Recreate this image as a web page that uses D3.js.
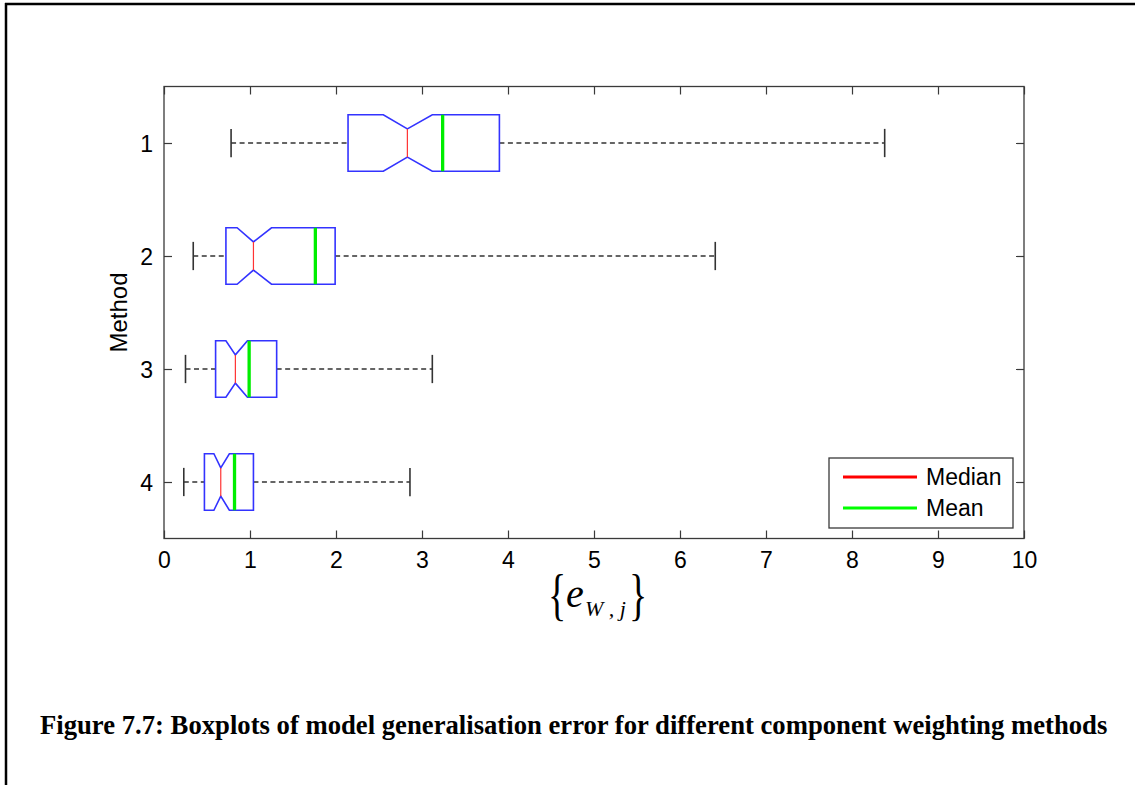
<!DOCTYPE html>
<html>
<head>
<meta charset="utf-8">
<script src="https://cdn.jsdelivr.net/npm/d3@7"></script>
<style>
  html, body { margin: 0; padding: 0; background: #fff; }
  svg { display: block; }
</style>
</head>
<body>
<svg id="chart" width="1135" height="785"></svg>
<script>
// ---- data ----
const methods      = ["1", "2", "3", "4"];
const lowerWhisker = [0.78, 0.34, 0.25, 0.23];
const q1           = [2.14, 0.72, 0.60, 0.47];
const median       = [2.83, 1.04, 0.83, 0.66];
const q3           = [3.90, 1.99, 1.31, 1.04];
const upperWhisker = [8.38, 6.41, 3.12, 2.86];
const meanVals     = [3.24, 1.76, 0.99, 0.82];
const notchLow     = [2.55, 0.85, 0.72, 0.58];
const notchHigh    = [3.12, 1.25, 0.97, 0.76];
const xTicks       = [0, 1, 2, 3, 4, 5, 6, 7, 8, 9, 10];
const legendLabels = ["Median", "Mean"];
const legendColors = ["#ff0000", "#00ff00"];
const captionText  = "Figure 7.7: Boxplots of model generalisation error for different component weighting methods";

// ---- layout ----
const svg = d3.select("#chart");
const L = 164, R = 1024, T = 86.5, B = 538.5;
const x = d3.scaleLinear().domain([0, 10]).range([L, R]);
const y = d3.scalePoint().domain(methods).range([T, B]).padding(0.5);
const step = y.step();
const boxH = step * 0.25;     // half box height
const notchH = boxH * 0.5;    // half notch height
const capH = boxH * 0.5;
const axisColor = "#3a3a3a";
const sans = "'Liberation Sans', Arial, Helvetica, sans-serif";
const serif = "'Liberation Serif', 'Times New Roman', Times, serif";

// outer page border (left + top)
svg.append("line").attr("x1", 6).attr("x2", 6).attr("y1", 3).attr("y2", 785)
  .attr("stroke", "#000").attr("stroke-width", 2.5);
svg.append("line").attr("x1", 5).attr("x2", 1135).attr("y1", 4).attr("y2", 4)
  .attr("stroke", "#000").attr("stroke-width", 2.5);

// axes
const gx = svg.append("g").attr("transform", `translate(0,${B})`)
  .call(d3.axisBottom(x).tickValues(xTicks).tickSizeInner(-8).tickSizeOuter(0).tickPadding(14));
const gxt = svg.append("g").attr("transform", `translate(0,${T})`)
  .call(d3.axisTop(x).tickValues(xTicks).tickSizeInner(-8).tickSizeOuter(0).tickFormat(""));
const gy = svg.append("g").attr("transform", `translate(${L},0)`)
  .call(d3.axisLeft(y).tickSizeInner(-8).tickSizeOuter(0).tickPadding(11));
const gyr = svg.append("g").attr("transform", `translate(${R},0)`)
  .call(d3.axisRight(y).tickSizeInner(-8).tickSizeOuter(0).tickFormat(""));
[gx, gxt, gy, gyr].forEach(g => {
  g.select(".domain").remove();
  g.selectAll(".tick line").attr("stroke", axisColor).attr("stroke-width", 1.2);
  g.selectAll(".tick text").attr("fill", "#000").attr("font-family", sans).attr("font-size", 23);
});
gy.selectAll(".tick text").attr("dy", "0.36em");
gx.selectAll(".tick text").attr("dy", "0.68em");
svg.append("rect").attr("x", L).attr("y", T).attr("width", R - L).attr("height", B - T)
  .attr("fill", "none").attr("stroke", axisColor).attr("stroke-width", 1.3);

// boxes
const data = methods.map((m, i) => ({
  m, lw: lowerWhisker[i], q1: q1[i], med: median[i], q3: q3[i], uw: upperWhisker[i],
  mean: meanVals[i], nl: notchLow[i], nh: notchHigh[i]
}));
const g = svg.append("g");
data.forEach(d => {
  const cy = y(d.m);
  // whiskers (dashed)
  g.append("line").attr("x1", x(d.lw)).attr("x2", x(d.q1)).attr("y1", cy).attr("y2", cy)
    .attr("stroke", "#333").attr("stroke-width", 1.3).attr("stroke-dasharray", "5,3.5");
  g.append("line").attr("x1", x(d.q3)).attr("x2", x(d.uw)).attr("y1", cy).attr("y2", cy)
    .attr("stroke", "#333").attr("stroke-width", 1.3).attr("stroke-dasharray", "5,3.5");
  // caps
  [d.lw, d.uw].forEach(v => {
    g.append("line").attr("x1", x(v)).attr("x2", x(v)).attr("y1", cy - capH).attr("y2", cy + capH)
      .attr("stroke", "#333").attr("stroke-width", 1.6);
  });
  // notched box
  const pts = [
    [x(d.q1), cy - boxH], [x(d.nl), cy - boxH], [x(d.med), cy - notchH], [x(d.nh), cy - boxH],
    [x(d.q3), cy - boxH], [x(d.q3), cy + boxH], [x(d.nh), cy + boxH], [x(d.med), cy + notchH],
    [x(d.nl), cy + boxH], [x(d.q1), cy + boxH]
  ];
  g.append("path").attr("d", d3.line()(pts) + "Z")
    .attr("fill", "none").attr("stroke", "#3333ff").attr("stroke-width", 1.6)
    .attr("stroke-linejoin", "miter");
  // median
  g.append("line").attr("x1", x(d.med)).attr("x2", x(d.med)).attr("y1", cy - notchH).attr("y2", cy + notchH)
    .attr("stroke", "#ff3333").attr("stroke-width", 1.2);
  // mean
  g.append("line").attr("x1", x(d.mean)).attr("x2", x(d.mean)).attr("y1", cy - boxH).attr("y2", cy + boxH)
    .attr("stroke", "#00ee00").attr("stroke-width", 3.3);
});

// y label
svg.append("text").attr("transform", `translate(127,${(T + B) / 2}) rotate(-90)`)
  .attr("text-anchor", "middle").attr("font-family", sans).attr("font-size", 24)
  .text("Method");

// x label {e_{W,j}}
const xl = svg.append("g").attr("font-family", serif);
xl.append("text").attr("transform", "translate(548,614) scale(1,1.5)")
  .attr("font-size", 38).text("{");
xl.append("text").attr("x", 566).attr("y", 607).attr("font-size", 40).attr("font-style", "italic").text("e");
xl.append("text").attr("x", 585).attr("y", 616).attr("font-size", 22).attr("font-style", "italic")
  .attr("xml:space", "preserve").text("W , j");
xl.append("text").attr("transform", "translate(629,614) scale(1,1.5)")
  .attr("font-size", 38).text("}");

// legend
const lg = svg.append("g");
lg.append("rect").attr("x", 829).attr("y", 458).attr("width", 184).attr("height", 70)
  .attr("fill", "#fff").attr("stroke", axisColor).attr("stroke-width", 1.3);
legendLabels.forEach((lab, i) => {
  const ly = 477 + i * 31;
  lg.append("line").attr("x1", 843).attr("x2", 917).attr("y1", ly).attr("y2", ly)
    .attr("stroke", legendColors[i]).attr("stroke-width", 3);
  lg.append("text").attr("x", 926).attr("y", ly).attr("dy", "0.36em")
    .attr("font-family", sans).attr("font-size", 23).text(lab);
});

// caption
const cap = svg.append("text").attr("x", 40).attr("y", 734)
  .attr("font-family", serif).attr("font-weight", "bold").attr("font-size", 21).text(captionText);
const w = cap.node().getComputedTextLength();
cap.attr("font-size", 21 * 1068 / w);
</script>
</body>
</html>
